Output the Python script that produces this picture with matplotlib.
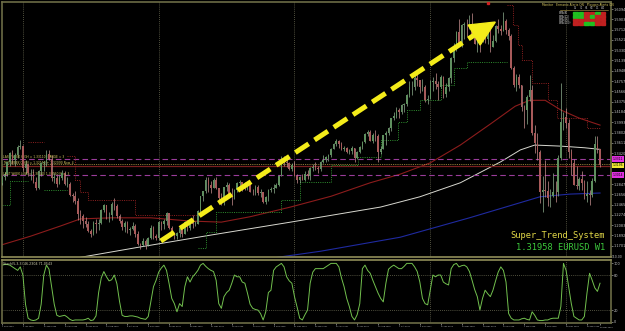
import numpy as np
import pandas as pd
import matplotlib
matplotlib.use("Agg")
import matplotlib.pyplot as plt
from matplotlib.patches import Polygon, Rectangle

W, H = 625, 331

# weekly EURUSD bars, bar 0 = week of 7 Nov 2004
first_open = 1.2860
closes = [
    1.2970, 1.3030, 1.3250, 1.3420, 1.3300, 1.3390, 1.3540, 1.3560, 1.3140, 1.3220,
    1.3050, 1.3050, 1.2890, 1.2780, 1.3080, 1.3230, 1.3260, 1.3400, 1.3320, 1.2960,
    1.2960, 1.2850, 1.2950, 1.3060, 1.2850, 1.2850, 1.2640, 1.2630, 1.2530, 1.2290,
    1.2260, 1.2170, 1.2110, 1.1970, 1.1920, 1.2120, 1.2110, 1.2120, 1.2360, 1.2450,
    1.2270, 1.2280, 1.2480, 1.2440, 1.2250, 1.2160, 1.2050, 1.2130, 1.1990, 1.2020,
    1.2060, 1.1920, 1.1740, 1.1720, 1.1790, 1.1710, 1.1840, 1.2030, 1.1890, 1.1840,
    1.2150, 1.2100, 1.2160, 1.2310, 1.2030, 1.1920, 1.1890, 1.1930, 1.2030, 1.1920,
    1.2150, 1.2030, 1.2120, 1.2100, 1.2110, 1.2350, 1.2620, 1.2710, 1.2920, 1.2830,
    1.2770, 1.2930, 1.2780, 1.2580, 1.2560, 1.2790, 1.2820, 1.2660, 1.2620, 1.2740,
    1.2860, 1.2880, 1.2820, 1.2760, 1.2820, 1.2700, 1.2690, 1.2800, 1.2680, 1.2690,
    1.2520, 1.2600, 1.2730, 1.2760, 1.2780, 1.2830, 1.3000, 1.3330, 1.3250, 1.3240,
    1.3130, 1.3200, 1.3000, 1.2920, 1.2970, 1.2930, 1.3040, 1.2990, 1.3140, 1.3170,
    1.3140, 1.3120, 1.3260, 1.3300, 1.3350, 1.3390, 1.3500, 1.3590, 1.3650, 1.3590,
    1.3500, 1.3520, 1.3450, 1.3460, 1.3510, 1.3330, 1.3450, 1.3540, 1.3620, 1.3780,
    1.3810, 1.3650, 1.3750, 1.3730, 1.3440, 1.3500, 1.3750, 1.3790, 1.3890, 1.4070,
    1.4100, 1.4220, 1.4190, 1.4310, 1.4340, 1.4500, 1.4640, 1.4640, 1.4810, 1.4770,
    1.4650, 1.4650, 1.4400, 1.4430, 1.4740, 1.4760, 1.4700, 1.4640, 1.4840, 1.4520,
    1.4640, 1.4820, 1.5190, 1.5350, 1.5660, 1.5450, 1.5790, 1.5820, 1.5810, 1.5810,
    1.5600, 1.5450, 1.5500, 1.5490, 1.5750, 1.5540, 1.5770, 1.5390, 1.5500, 1.5780,
    1.5730, 1.5690, 1.5880, 1.5710, 1.5590, 1.5000, 1.4680, 1.4840, 1.4680, 1.4270,
    1.4220, 1.4460, 1.4600, 1.3800, 1.3600, 1.3440, 1.2690, 1.2730, 1.2710, 1.2580,
    1.2620, 1.2700, 1.2690, 1.3330, 1.4000, 1.4090, 1.3970, 1.3440, 1.3230, 1.2830,
    1.2810, 1.2940, 1.2870, 1.2630, 1.2660, 1.2650, 1.2910, 1.3590, 1.3500, 1.3196,
]
highs = [
    1.2990, 1.3075, 1.3260, 1.3440, 1.3470, 1.3420, 1.3570, 1.3667, 1.3580, 1.3290,
    1.3180, 1.3130, 1.3120, 1.2970, 1.3100, 1.3260, 1.3270, 1.3480, 1.3470, 1.3390,
    1.3060, 1.3010, 1.3010, 1.3100, 1.3080, 1.2980, 1.2890, 1.2680, 1.2710, 1.2580,
    1.2370, 1.2300, 1.2240, 1.2170, 1.2020, 1.2170, 1.2190, 1.2190, 1.2380, 1.2480,
    1.2450, 1.2320, 1.2520, 1.2590, 1.2470, 1.2300, 1.2200, 1.2170, 1.2170, 1.2050,
    1.2140, 1.2110, 1.1970, 1.1760, 1.1840, 1.1830, 1.1860, 1.2090, 1.2070, 1.1920,
    1.2170, 1.2170, 1.2190, 1.2320, 1.2280, 1.2060, 1.1960, 1.1960, 1.2040, 1.2080,
    1.2160, 1.2180, 1.2180, 1.2270, 1.2170, 1.2370, 1.2630, 1.2720, 1.2980, 1.2970,
    1.2910, 1.2960, 1.2970, 1.2780, 1.2680, 1.2800, 1.2890, 1.2870, 1.2770, 1.2760,
    1.2880, 1.2920, 1.2890, 1.2890, 1.2850, 1.2870, 1.2760, 1.2820, 1.2830, 1.2760,
    1.2700, 1.2620, 1.2760, 1.2790, 1.2840, 1.2870, 1.3010, 1.3370, 1.3370, 1.3330,
    1.3250, 1.3230, 1.3270, 1.3040, 1.3000, 1.3040, 1.3080, 1.3100, 1.3170, 1.3220,
    1.3260, 1.3180, 1.3270, 1.3380, 1.3370, 1.3410, 1.3510, 1.3610, 1.3680, 1.3660,
    1.3620, 1.3560, 1.3530, 1.3500, 1.3550, 1.3520, 1.3460, 1.3550, 1.3640, 1.3790,
    1.3840, 1.3850, 1.3790, 1.3850, 1.3780, 1.3560, 1.3760, 1.3830, 1.3910, 1.4080,
    1.4190, 1.4280, 1.4250, 1.4330, 1.4350, 1.4520, 1.4750, 1.4750, 1.4870, 1.4970,
    1.4770, 1.4790, 1.4680, 1.4500, 1.4780, 1.4840, 1.4900, 1.4760, 1.4870, 1.4850,
    1.4720, 1.4840, 1.5210, 1.5460, 1.5680, 1.5900, 1.5810, 1.5850, 1.5910, 1.5980,
    1.6019, 1.5740, 1.5590, 1.5550, 1.5800, 1.5800, 1.5790, 1.5620, 1.5620, 1.5790,
    1.5910, 1.5800, 1.6038, 1.5900, 1.5740, 1.5630, 1.5030, 1.4890, 1.4880, 1.4680,
    1.4320, 1.4490, 1.4870, 1.4690, 1.3950, 1.3790, 1.3480, 1.3000, 1.3300, 1.2900,
    1.2760, 1.3060, 1.2900, 1.3390, 1.4720, 1.4190, 1.4250, 1.4060, 1.3500, 1.3320,
    1.3180, 1.2980, 1.3080, 1.2930, 1.2900, 1.2740, 1.2950, 1.3740, 1.3740, 1.3500,
]
lows = [
    1.2830, 1.2920, 1.3000, 1.3190, 1.3220, 1.3190, 1.3330, 1.3500, 1.3080, 1.3030,
    1.3000, 1.2930, 1.2860, 1.2730, 1.2750, 1.3000, 1.3090, 1.3190, 1.3290, 1.2910,
    1.2870, 1.2800, 1.2840, 1.2920, 1.2830, 1.2790, 1.2620, 1.2520, 1.2480, 1.2180,
    1.2100, 1.2040, 1.2050, 1.1960, 1.1870, 1.1910, 1.1930, 1.1990, 1.2110, 1.2330,
    1.2200, 1.2150, 1.2180, 1.2370, 1.2220, 1.2120, 1.2000, 1.1960, 1.1930, 1.1910,
    1.1990, 1.1860, 1.1710, 1.1640, 1.1700, 1.1650, 1.1690, 1.1830, 1.1820, 1.1800,
    1.1800, 1.2000, 1.2020, 1.2090, 1.2010, 1.1900, 1.1830, 1.1820, 1.1860, 1.1870,
    1.1920, 1.1980, 1.1990, 1.2030, 1.2060, 1.2110, 1.2330, 1.2540, 1.2680, 1.2690,
    1.2680, 1.2780, 1.2750, 1.2530, 1.2450, 1.2460, 1.2710, 1.2630, 1.2460, 1.2570,
    1.2690, 1.2750, 1.2710, 1.2740, 1.2740, 1.2690, 1.2640, 1.2650, 1.2650, 1.2600,
    1.2490, 1.2480, 1.2530, 1.2690, 1.2680, 1.2770, 1.2810, 1.2990, 1.3180, 1.3160,
    1.3100, 1.3080, 1.2990, 1.2870, 1.2870, 1.2920, 1.2900, 1.2940, 1.2930, 1.3080,
    1.3100, 1.3060, 1.3080, 1.3240, 1.3260, 1.3280, 1.3340, 1.3490, 1.3560, 1.3520,
    1.3470, 1.3460, 1.3420, 1.3400, 1.3410, 1.3260, 1.3310, 1.3420, 1.3500, 1.3600,
    1.3740, 1.3640, 1.3610, 1.3650, 1.3260, 1.3400, 1.3500, 1.3580, 1.3750, 1.3830,
    1.4030, 1.4080, 1.4070, 1.4140, 1.4190, 1.4290, 1.4460, 1.4500, 1.4600, 1.4660,
    1.4530, 1.4570, 1.4360, 1.4340, 1.4520, 1.4580, 1.4610, 1.4400, 1.4620, 1.4440,
    1.4470, 1.4580, 1.4730, 1.5110, 1.5310, 1.5410, 1.5380, 1.5530, 1.5600, 1.5720,
    1.5560, 1.5450, 1.5290, 1.5290, 1.5480, 1.5460, 1.5450, 1.5300, 1.5380, 1.5480,
    1.5650, 1.5610, 1.5750, 1.5630, 1.5520, 1.4990, 1.4650, 1.4580, 1.4620, 1.4210,
    1.3880, 1.3960, 1.4390, 1.3750, 1.3420, 1.3300, 1.2500, 1.2330, 1.2600, 1.2440,
    1.2420, 1.2600, 1.2510, 1.2620, 1.3300, 1.3840, 1.3880, 1.3330, 1.3010, 1.2820,
    1.2760, 1.2740, 1.2730, 1.2560, 1.2510, 1.2450, 1.2610, 1.2890, 1.3430, 1.3160,
]

# stochastic main line
stoch = [
    97, 98, 98, 97, 94, 91, 88, 94, 80, 30,
    6, 3, 2, 3, 6, 30, 80, 97, 90, 60,
    30, 11, 9, 10, 11, 8, 4, 2, 3, 3,
    3, 3, 4, 6, 2, 3, 10, 50, 75, 86,
    77, 70, 72, 80, 65, 35, 11, 9, 9, 10,
    10, 9, 8, 6, 5, 4, 9, 35, 60, 71,
    85, 92, 97, 88, 65, 40, 31, 17, 31, 26,
    60, 77, 68, 77, 82, 88, 97, 100, 95, 91,
    88, 86, 71, 31, 23, 43, 50, 54, 66, 80,
    77, 77, 68, 66, 49, 30, 23, 21, 20, 14,
    3, 17, 50, 54, 88, 94, 97, 100, 94, 77,
    70, 66, 43, 25, 6, 3, 12, 20, 66, 85,
    91, 91, 91, 91, 94, 97, 100, 100, 100, 94,
    75, 60, 40, 26, 9, 3, 12, 31, 91, 97,
    88, 83, 71, 60, 49, 40, 34, 66, 90, 94,
    97, 94, 91, 91, 95, 100, 100, 100, 94, 86,
    68, 40, 31, 29, 54, 80, 77, 80, 80, 68,
    65, 63, 91, 98, 100, 94, 96, 97, 94, 86,
    71, 55, 43, 20, 40, 54, 48, 43, 54, 70,
    85, 94, 88, 68, 14, 6, 3, 3, 3, 5,
    6, 4, 3, 17, 11, 3, 2, 2, 3, 3,
    5, 6, 6, 6, 26, 100, 88, 60, 31, 9,
    6, 3, 3, 9, 49, 83, 71, 58, 52, 66,
]

# moving averages (week, price)
ma_red_w = [0, 11, 22.5, 30, 42, 57, 72, 84, 95, 110.5, 126, 141, 152.5, 164, 175.5, 187, 196.5, 202, 208, 214, 221, 229]
ma_red_p = [1.172, 1.188, 1.207, 1.220, 1.222, 1.222, 1.216, 1.214, 1.224, 1.242, 1.262, 1.287, 1.303, 1.324, 1.357, 1.396, 1.429, 1.440, 1.440, 1.422, 1.407, 1.394]
ma_white_w = [28, 53, 80, 110.5, 145, 160, 175.5, 191, 198.5, 204, 214, 223, 229]
ma_white_p = [1.147, 1.168, 1.190, 1.214, 1.242, 1.261, 1.287, 1.326, 1.348, 1.357, 1.355, 1.352, 1.349]
ma_blue_w = [103, 122, 152.5, 179, 206, 217.5, 229]
ma_blue_p = [1.147, 1.160, 1.186, 1.222, 1.261, 1.266, 1.268]

# super trend steps
st_up_start = [0, 3, 16, 75, 78, 82, 107, 114, 126, 136.5, 145, 151.5, 155, 160, 168, 173, 178]
st_up_end = [3, 10, 25, 78, 82, 107, 114, 126, 136.5, 145, 151.5, 155, 160, 168, 173, 178, 193.5]
st_up_level = [1.2457, 1.2900, 1.2736, 1.1660, 1.1956, 1.2327, 1.2550, 1.2884, 1.3199, 1.3348,
               1.3663, 1.3997, 1.4220, 1.4405, 1.4684, 1.4999, 1.5110]
st_dn_start = [10, 25, 28, 30, 33, 51, 193.5, 195.5, 197.5, 199, 203, 209, 212.5, 224]
st_dn_end = [16, 28, 30, 33, 51, 75, 195.5, 197.5, 199, 203, 209, 212.5, 224, 229]
st_dn_level = [1.3626, 1.3366, 1.2921, 1.2698, 1.2550, 1.2272, 1.6168, 1.5797, 1.5426, 1.5147,
               1.4721, 1.4405, 1.4071, 1.3886]

level_purple = [1.3311, 1.3014]
level_brown = 1.3175
level_yellow = 1.3215
last_price = 1.31958

arrow_tail = (60.8, 1.179)
arrow_neck = (180.8, 1.561)
arrow_head = [(188.9, 1.5852), (178.5, 1.5797), (183.1, 1.5426)]

year_weeks = [8, 60, 112, 164, 216]
label_weeks = list(range(0, 225, 8)) + [229]

table_rows = ["EMA(8)", "EMA(21)", "EMA(55)", "EMA(200)"]
table_cols = ["15", "30", "H1", "H4", "D1", "W1"]
table_state = [
    [1, 1, 0, 0, 1, 0],
    [1, 1, 0, 1, 0, 0],
    [0, 0, 0, 0, 0, 0],
    [0, 0, 1, 1, 0, 0],
]


def fx(x):
    return x / W


def fy(y):
    return 1 - y / H


o = np.array([first_open] + closes[:-1])
c = np.array(closes)
hi = np.maximum(np.array(highs), np.maximum(o, c))
lo = np.minimum(np.array(lows), np.minimum(o, c))
wk = np.arange(len(c))
dates = pd.date_range("2004-11-07", periods=len(c), freq="7D")

olive = "#6b6b45"
olive_l = "#8f8d58"
txt = "#c8c8c8"

fig = plt.figure(figsize=(W / 100, H / 100), dpi=100)
fig.patch.set_facecolor("black")
ax = fig.add_axes([fx(2), fy(257), fx(611) - fx(2), fy(2) - fy(257)])
ax2 = fig.add_axes([fx(2), fy(323), fx(611) - fx(2), fy(260) - fy(323)], sharex=ax)
for a in (ax, ax2):
    a.set_facecolor("black")
    for s in a.spines.values():
        s.set_color(olive)
        s.set_linewidth(1.2)
ax.spines["bottom"].set_color(olive_l)
ax2.spines["top"].set_color(olive_l)

xmin, xmax = 0.34, 233.2
ax.set_xlim(xmin, xmax)
ax.set_ylim(1.1493, 1.6224)
ax2.set_ylim(-2.2, 105.8)

# grid
for w in year_weeks:
    for a in (ax, ax2):
        a.axvline(w, color="#6a6a52", lw=0.6, ls=(0, (1, 1.5)), zorder=0)
for v in (80, 20):
    ax2.axhline(v, color="#6a6a52", lw=0.6, ls=(0, (1, 1.5)), zorder=0)

# moving averages
ax.plot(ma_blue_w, ma_blue_p, color="#1f2aa0", lw=0.8, zorder=1)
ax.plot(ma_white_w, ma_white_p, color="#d8d8d0", lw=0.7, zorder=1)
ax.plot(ma_red_w, ma_red_p, color="#8c1c1c", lw=0.8, zorder=1)

# level lines
for lv in level_purple:
    ax.axhline(lv, color="#9a3c9a", lw=0.8, ls=(0, (5, 3)), zorder=1)
ax.axhline(level_brown, color="#7a2020", lw=0.9, zorder=1)
ax.axhline(level_yellow, color="#b8a048", lw=0.6, ls=(0, (1, 1.2)), zorder=1)


def steps(starts, ends, levels):
    xs, ys = [], []
    for i in range(len(starts)):
        if i > 0 and starts[i] != ends[i - 1]:
            xs.append(np.nan)
            ys.append(np.nan)
        xs += [starts[i], ends[i]]
        ys += [levels[i], levels[i]]
    return xs, ys


sx, sy = steps(st_up_start, st_up_end, st_up_level)
ax.plot(sx, sy, color="#2f8f2f", lw=0.7, ls=(0, (1, 1.3)), zorder=2)
sx, sy = steps(st_dn_start, st_dn_end, st_dn_level)
ax.plot(sx, sy, color="#8f2020", lw=0.7, ls=(0, (1, 1.3)), zorder=2)

# candles
up = c >= o
dn = ~up
body = np.maximum(np.abs(c - o), 0.0008)
ax.vlines(wk[up], lo[up], hi[up], color="#8fae8f", lw=0.5, zorder=3)
ax.vlines(wk[dn], lo[dn], hi[dn], color="#c89090", lw=0.5, zorder=3)
ax.bar(wk[up], body[up], bottom=o[up], width=0.6, color="#5f8f5f", lw=0, zorder=4)
ax.bar(wk[dn], body[dn], bottom=c[dn], width=0.6, color="#a85a5a", lw=0, zorder=4)

# arrow
ax.plot([arrow_tail[0], arrow_neck[0]], [arrow_tail[1], arrow_neck[1]],
        color="#f4ec1a", lw=3.6, ls=(0, (3.2, 1.4)), solid_capstyle="butt", zorder=6)
ax.add_patch(Polygon(arrow_head, closed=True, color="#f4ec1a", zorder=6))
ax.plot([186.2], [1.6205], "s", color="#d02020", ms=1.5, zorder=6)

# stochastic
ax2.plot(wk, stoch, color="#72c04e", lw=0.7)

# axes ticks; skip price ticks hidden under the level boxes
ax.yaxis.tick_right()
pt = 1.6094 - 0.0191 * np.arange(24)
boxed = level_purple + [last_price]
pt = [p for p in pt if min(abs(p - b) for b in boxed) > 0.007]
ax.set_yticks(pt)
ax.set_yticklabels([f"{p:.4f}" for p in pt])
ax.tick_params(axis="y", colors=txt, labelsize=2.5, length=1.2, width=0.4, pad=0.5)
ax.tick_params(axis="x", bottom=False, labelbottom=False)
ax2.yaxis.tick_right()
ax2.set_yticks([0, 20, 80, 100])
ax2.set_yticklabels(["0", "20", "80", "100"])
ax2.tick_params(axis="y", colors=txt, labelsize=2.5, length=1.2, width=0.4, pad=0.5)
date_txt = [f"{dates[w].day} {dates[w].strftime('%b %Y')}" for w in label_weeks]
ax2.set_xticks(label_weeks)
ax2.set_xticklabels(date_txt[:-1] + [""], ha="left")
ax2.tick_params(axis="x", colors=txt, labelsize=1.45, length=1.5, width=0.4, pad=0.8)
# last date label sits flush with the right edge
fig.text(fx(613), fy(327.5), date_txt[-1], color=txt, fontsize=1.45, ha="right", va="center")
fig.text(fx(612), fy(257.5), "110.00", color=txt, fontsize=2.2, va="center")

# price boxes on the right axis
yt = ax.get_yaxis_transform()
for lv in level_purple:
    ax.text(1.003, lv, f"{lv:.4f}", transform=yt, fontsize=2.2, color="black", va="center",
            bbox=dict(boxstyle="square,pad=0.2", fc="#e030e0", ec="none"), clip_on=False)
ax.text(1.003, last_price, f"{last_price:.4f}", transform=yt, fontsize=2.2, color="black",
        va="center", bbox=dict(boxstyle="square,pad=0.2", fc="#f0e830", ec="none"), clip_on=False)

# left level labels
for lv, s in [(1.3311, "LAST WEEK HIGH = 1.33110  RANGE = 3"),
              (1.3215, "THIS WEEK OPEN = 1.32150 + 1.32090 Now_4"),
              (1.3014, "LAST WEEK LOW = 1.30140 1.30760 Now_3")]:
    ax.text(0.002, lv + 0.0035, s, transform=yt, fontsize=2.2, color="#d8c860", va="center")

# stochastic label
ax2.text(0.002, 0.97, "Stoch(5,3,3) 46.2304 71.0543", transform=ax2.transAxes,
         fontsize=2.3, color="#d0d0b0", va="top")

# system texts
mono = ["DejaVu Sans Mono"]
ax.text(0.990, 0.084, "Super_Trend_System", transform=ax.transAxes, ha="right", va="center",
        fontsize=6.3, color="#e2d848", family=mono)
ax.text(0.990, 0.036, f"{last_price:.5f} EURUSD W1", transform=ax.transAxes, ha="right",
        va="center", fontsize=6.3, color="#3cc83c", family=mono)

# monitor table (top right)
fig.text(fx(542), fy(5), "Monitor   Ermanix Alerts ON   Ploygon Alerts ON", color="#d8c860",
         fontsize=2.2, va="center")
fig.add_artist(plt.Line2D([fx(560), fx(608)], [fy(9.5), fy(9.5)], color="#b8a048", lw=0.4))
for j, cl in enumerate(table_cols):
    fig.text(fx(575.5 + j * 5.5), fy(8), cl, color=txt, fontsize=1.8, ha="center", va="center")
for i, rl in enumerate(table_rows):
    fig.text(fx(559), fy(13 + i * 3.5), rl, color=txt, fontsize=1.9, va="center")
    for j in range(len(table_cols)):
        col = "#20c020" if table_state[i][j] else "#c02020"
        fig.add_artist(Rectangle((fx(573 + j * 5.5), fy(14.3 + i * 3.5)), 4.8 / W, 2.6 / H,
                                 transform=fig.transFigure, color=col))

fig.savefig("out.png", dpi=100, facecolor="black")
